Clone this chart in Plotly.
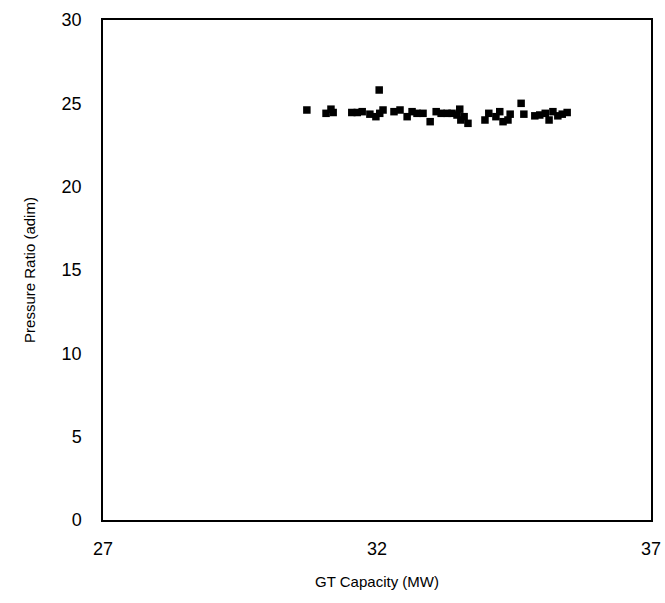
import plotly.graph_objects as go

# Gas turbine capacity (MW) vs compressor pressure ratio
capacity_mw = [
    30.72, 31.07, 31.16, 31.20, 31.54, 31.64, 31.73, 31.87, 31.98, 32.05,
    32.04, 32.11, 32.31, 32.42, 32.55, 32.64, 32.73, 32.84, 32.97, 33.08,
    33.17, 33.28, 33.37, 33.46, 33.51, 33.53, 33.59, 33.66, 33.97, 34.04,
    34.17, 34.24, 34.30, 34.39, 34.43, 34.63, 34.68, 34.88, 34.97, 35.07,
    35.14, 35.21, 35.30, 35.38, 35.47,
]
pressure_ratio = [
    24.60, 24.40, 24.65, 24.45, 24.45, 24.45, 24.50, 24.35, 24.20, 24.40,
    25.80, 24.60, 24.50, 24.60, 24.20, 24.50, 24.40, 24.40, 23.90, 24.50,
    24.40, 24.40, 24.40, 24.30, 24.65, 24.00, 24.20, 23.80, 24.00, 24.40,
    24.20, 24.50, 23.90, 24.00, 24.35, 25.00, 24.35, 24.25, 24.30, 24.40,
    24.00, 24.50, 24.25, 24.35, 24.45,
]

x_ticks = [27, 32, 37]
y_ticks = [0, 5, 10, 15, 20, 25, 30]

fig = go.Figure(
    go.Scatter(
        x=capacity_mw,
        y=pressure_ratio,
        mode="markers",
        marker=dict(symbol="square", size=7.5, color="black", line=dict(width=0)),
    )
)

axis_common = dict(
    showgrid=False,
    zeroline=False,
    showline=True,
    linecolor="black",
    linewidth=1.5,
    mirror=True,
    ticks="",
    automargin=False,
    tickfont=dict(family="Liberation Sans, Arial, sans-serif", size=18, color="black"),
)

fig.update_layout(
    width=665,
    height=603,
    margin=dict(l=103, r=14, t=20, b=83),
    paper_bgcolor="white",
    plot_bgcolor="white",
    showlegend=False,
    xaxis=dict(
        range=[27, 37],
        tickvals=x_ticks,
        ticklabelstandoff=12,
        title=dict(
            text="GT Capacity (MW)",
            font=dict(family="Liberation Sans, Arial, sans-serif", size=15, color="black"),
            standoff=18,
        ),
        **axis_common,
    ),
    yaxis=dict(
        range=[0, 30],
        tickvals=y_ticks,
        ticklabelstandoff=16,
        title=dict(
            text="Pressure Ratio (adim)",
            font=dict(family="Liberation Sans, Arial, sans-serif", size=15, color="black"),
            standoff=22,
        ),
        **axis_common,
    ),
)

fig.write_html("out.html")
